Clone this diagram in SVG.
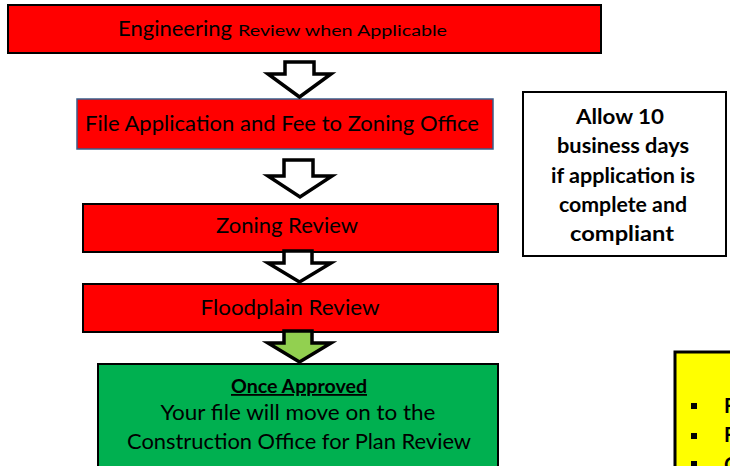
<svg xmlns="http://www.w3.org/2000/svg" width="730" height="466" viewBox="0 0 730 466">
<style>
.red{fill:#ff0000;stroke:#000;stroke-width:2}
.t{font-family:Lato,"Open Sans","Liberation Sans",sans-serif;fill:#000;text-anchor:middle}
.s{font-family:Lato,"Open Sans","Liberation Sans",sans-serif;fill:#000}
.b{font-weight:bold}
.arrow{stroke:#000;stroke-width:3.5;stroke-linejoin:miter}
</style>
<rect width="730" height="466" fill="#fff"/>
<g id="engineering">
<rect class="red" x="8" y="5" width="593" height="48"/>
<text class="s" x="118" y="36" font-size="21" textLength="114" lengthAdjust="spacingAndGlyphs">Engineering</text>
<text class="s" x="238" y="36" font-size="16" textLength="209" lengthAdjust="spacingAndGlyphs">Review when Applicable</text>
</g>
<g id="file-application">
<rect x="77" y="99" width="416" height="50" fill="#ff0000" stroke="#385D8A" stroke-width="1.5"/>
<text class="t" x="282" y="131" font-size="21" textLength="394" lengthAdjust="spacingAndGlyphs">File Application and Fee to Zoning Office</text>
</g>
<g id="zoning">
<rect class="red" x="83" y="204" width="415" height="48"/>
<text class="t" x="287" y="233" font-size="21" textLength="142" lengthAdjust="spacingAndGlyphs">Zoning Review</text>
</g>
<g id="floodplain">
<rect class="red" x="83" y="284" width="415" height="48"/>
<text class="t" x="290" y="315" font-size="21" textLength="179" lengthAdjust="spacingAndGlyphs">Floodplain Review</text>
</g>
<g id="approved">
<rect x="98" y="364" width="400" height="110" fill="#00b050" stroke="#000" stroke-width="2"/>
<text class="t b" x="299" y="393" font-size="18" text-decoration="underline" textLength="136" lengthAdjust="spacingAndGlyphs">Once Approved</text>
<text class="t" x="298" y="420" font-size="21" textLength="275" lengthAdjust="spacingAndGlyphs">Your file will move on to the</text>
<text class="t" x="299" y="449" font-size="21" textLength="344" lengthAdjust="spacingAndGlyphs">Construction Office for Plan Review</text>
</g>
<g id="allow">
<rect x="523" y="92" width="203" height="164" fill="#fff" stroke="#000" stroke-width="2"/>
<g class="t b" font-size="21">
<text x="620" y="124" textLength="88" lengthAdjust="spacingAndGlyphs">Allow 10</text>
<text x="623" y="153" textLength="132" lengthAdjust="spacingAndGlyphs">business days</text>
<text x="623" y="183" textLength="144" lengthAdjust="spacingAndGlyphs">if application is</text>
<text x="623" y="212" textLength="128" lengthAdjust="spacingAndGlyphs">complete and</text>
<text x="622" y="241" textLength="104" lengthAdjust="spacingAndGlyphs">compliant</text>
</g>
</g>
<g id="notes">
<rect x="675" y="352" width="70" height="130" fill="#ffff00" stroke="#000" stroke-width="3"/>
<rect x="691" y="403" width="6" height="6" fill="#000"/>
<rect x="691" y="433" width="6" height="6" fill="#000"/>
<rect x="691" y="461" width="6" height="6" fill="#000"/>
<g class="s b" font-size="20">
<text x="724" y="413">F</text>
<text x="724" y="442">F</text>
<text x="724" y="472">C</text>
</g>
</g>
<g id="connectors">
<polygon class="arrow" fill="#fff" points="285,62 314,62 314,74 331,74 299.5,97 268,74 285,74"/>
<polygon class="arrow" fill="#fff" points="284,160 313,160 313,176 332,176 300,197 268,176 284,176"/>
<polygon class="arrow" fill="#fff" points="284,251 312,251 312,263 331,263 299.5,282 268,263 284,263"/>
<polygon class="arrow" fill="#92d050" points="284,331 312,331 312,343 331,343 299.5,362 268,343 284,343"/>
</g>
</svg>
